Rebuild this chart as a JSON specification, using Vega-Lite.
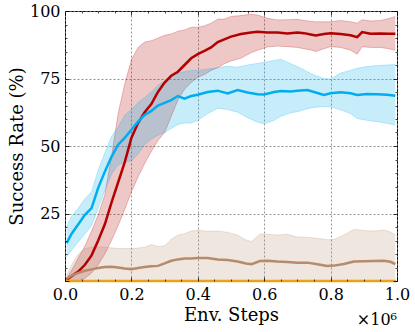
{
  "$schema": "https://vega.github.io/schema/vega-lite/v6.json",
  "width": 332,
  "height": 270,
  "autosize": {"type": "none"},
  "padding": {"left": 65, "top": 11, "right": 18, "bottom": 51},
  "config": {
    "view": {"stroke": "#000", "strokeWidth": 1},
    "font": "DejaVu Serif",
    "axis": {"labelFont": "DejaVu Serif", "titleFont": "DejaVu Serif", "labelColor": "#000", "titleColor": "#000", "titleFontWeight": "normal", "labelFlush": false, "labelOverlap": false}
  },
  "datasets": {
    "runs": [
      {"s":"A","x":0.005,"m":0.5,"lo":0,"hi":1},
      {"s":"A","x":0.02,"m":1.8,"lo":0,"hi":4},
      {"s":"A","x":0.04,"m":3.5,"lo":0,"hi":8.5},
      {"s":"A","x":0.06,"m":6,"lo":1,"hi":13},
      {"s":"A","x":0.08,"m":9.5,"lo":3,"hi":18.5},
      {"s":"A","x":0.1,"m":15,"lo":6,"hi":24.5},
      {"s":"A","x":0.12,"m":21,"lo":10,"hi":32},
      {"s":"A","x":0.14,"m":29,"lo":15,"hi":46},
      {"s":"A","x":0.16,"m":36.5,"lo":20.5,"hi":62},
      {"s":"A","x":0.18,"m":44,"lo":26.5,"hi":73},
      {"s":"A","x":0.2,"m":53,"lo":33,"hi":82},
      {"s":"A","x":0.22,"m":58.5,"lo":38.5,"hi":86.5},
      {"s":"A","x":0.24,"m":62.5,"lo":43.5,"hi":88.5},
      {"s":"A","x":0.26,"m":65.5,"lo":48,"hi":89},
      {"s":"A","x":0.28,"m":70,"lo":52,"hi":90},
      {"s":"A","x":0.3,"m":73.5,"lo":55,"hi":91},
      {"s":"A","x":0.32,"m":76,"lo":61,"hi":91.5},
      {"s":"A","x":0.34,"m":77.5,"lo":67,"hi":92.5},
      {"s":"A","x":0.36,"m":80,"lo":71,"hi":93},
      {"s":"A","x":0.38,"m":82.5,"lo":73.5,"hi":94},
      {"s":"A","x":0.4,"m":84,"lo":75.5,"hi":94},
      {"s":"A","x":0.42,"m":85.2,"lo":76.5,"hi":94.5},
      {"s":"A","x":0.44,"m":86.5,"lo":78,"hi":95.5},
      {"s":"A","x":0.46,"m":88.5,"lo":79,"hi":97},
      {"s":"A","x":0.48,"m":89.5,"lo":80.5,"hi":97},
      {"s":"A","x":0.5,"m":90.5,"lo":81.5,"hi":98},
      {"s":"A","x":0.53,"m":91.5,"lo":82.5,"hi":98.3},
      {"s":"A","x":0.56,"m":92,"lo":84.5,"hi":98.8},
      {"s":"A","x":0.58,"m":92.3,"lo":85.5,"hi":98.5},
      {"s":"A","x":0.61,"m":92,"lo":86.7,"hi":97.3},
      {"s":"A","x":0.64,"m":92,"lo":87,"hi":96.7},
      {"s":"A","x":0.67,"m":91.7,"lo":86.8,"hi":96.8},
      {"s":"A","x":0.7,"m":92,"lo":86.5,"hi":96.9},
      {"s":"A","x":0.72,"m":91.8,"lo":86,"hi":96.5},
      {"s":"A","x":0.74,"m":91.3,"lo":85.6,"hi":96.2},
      {"s":"A","x":0.755,"m":90.9,"lo":85,"hi":96},
      {"s":"A","x":0.78,"m":91.5,"lo":86,"hi":96},
      {"s":"A","x":0.8,"m":91.8,"lo":86.8,"hi":96},
      {"s":"A","x":0.83,"m":91.5,"lo":86.5,"hi":96.5},
      {"s":"A","x":0.86,"m":91,"lo":85.5,"hi":96},
      {"s":"A","x":0.88,"m":90.3,"lo":84,"hi":95.5},
      {"s":"A","x":0.895,"m":92.2,"lo":86.8,"hi":96.8},
      {"s":"A","x":0.92,"m":91.6,"lo":86.5,"hi":96.3},
      {"s":"A","x":0.95,"m":91.7,"lo":86.5,"hi":96.5},
      {"s":"A","x":0.975,"m":91.6,"lo":86,"hi":97.2},
      {"s":"A","x":0.995,"m":91.6,"lo":85.5,"hi":98},
      {"s":"B","x":0.005,"m":14,"lo":9,"hi":20},
      {"s":"B","x":0.02,"m":17.5,"lo":11.5,"hi":24},
      {"s":"B","x":0.04,"m":21,"lo":14.5,"hi":27},
      {"s":"B","x":0.06,"m":24.5,"lo":17.5,"hi":30.5},
      {"s":"B","x":0.08,"m":27,"lo":20.5,"hi":33},
      {"s":"B","x":0.1,"m":34.5,"lo":27,"hi":41},
      {"s":"B","x":0.12,"m":40.5,"lo":33.5,"hi":47.5},
      {"s":"B","x":0.14,"m":46,"lo":39.5,"hi":53.5},
      {"s":"B","x":0.16,"m":50.5,"lo":43,"hi":57},
      {"s":"B","x":0.18,"m":53,"lo":44,"hi":61.5},
      {"s":"B","x":0.2,"m":56,"lo":44.5,"hi":63.5},
      {"s":"B","x":0.22,"m":59,"lo":47,"hi":66},
      {"s":"B","x":0.24,"m":61.5,"lo":50.5,"hi":68},
      {"s":"B","x":0.26,"m":63,"lo":52.5,"hi":70},
      {"s":"B","x":0.28,"m":65,"lo":54,"hi":72.5},
      {"s":"B","x":0.3,"m":66,"lo":55,"hi":74},
      {"s":"B","x":0.32,"m":67,"lo":56.5,"hi":75.5},
      {"s":"B","x":0.34,"m":68.5,"lo":58,"hi":77},
      {"s":"B","x":0.36,"m":67.5,"lo":58.5,"hi":77.5},
      {"s":"B","x":0.38,"m":68.5,"lo":58.5,"hi":78},
      {"s":"B","x":0.4,"m":69,"lo":59.5,"hi":78},
      {"s":"B","x":0.43,"m":70,"lo":62,"hi":78.5},
      {"s":"B","x":0.46,"m":70.5,"lo":64,"hi":79},
      {"s":"B","x":0.49,"m":69.5,"lo":63.5,"hi":79.5},
      {"s":"B","x":0.52,"m":70.7,"lo":62.5,"hi":79.2},
      {"s":"B","x":0.55,"m":69.8,"lo":60.5,"hi":80},
      {"s":"B","x":0.58,"m":69.2,"lo":58.8,"hi":80.6},
      {"s":"B","x":0.6,"m":69.1,"lo":58.2,"hi":81},
      {"s":"B","x":0.63,"m":70,"lo":59.5,"hi":81.7},
      {"s":"B","x":0.65,"m":70.4,"lo":61,"hi":82.1},
      {"s":"B","x":0.68,"m":70.2,"lo":62.3,"hi":80.5},
      {"s":"B","x":0.7,"m":70.5,"lo":62.7,"hi":79.4},
      {"s":"B","x":0.73,"m":70.7,"lo":63.8,"hi":77.5},
      {"s":"B","x":0.75,"m":70,"lo":64.3,"hi":76.3},
      {"s":"B","x":0.78,"m":68.9,"lo":64.6,"hi":75},
      {"s":"B","x":0.8,"m":69.5,"lo":64.5,"hi":74.8},
      {"s":"B","x":0.83,"m":69.9,"lo":63.4,"hi":77},
      {"s":"B","x":0.86,"m":69.5,"lo":62,"hi":78},
      {"s":"B","x":0.88,"m":68.9,"lo":60.2,"hi":78.8},
      {"s":"B","x":0.91,"m":69.3,"lo":59.5,"hi":79.4},
      {"s":"B","x":0.94,"m":69.2,"lo":59,"hi":79.8},
      {"s":"B","x":0.97,"m":69,"lo":58.4,"hi":80},
      {"s":"B","x":0.995,"m":68.6,"lo":57.8,"hi":80.2},
      {"s":"C","x":0.005,"m":1,"lo":0,"hi":2},
      {"s":"C","x":0.02,"m":2,"lo":0,"hi":6},
      {"s":"C","x":0.04,"m":3,"lo":0,"hi":10},
      {"s":"C","x":0.06,"m":3.8,"lo":0,"hi":12},
      {"s":"C","x":0.08,"m":4.3,"lo":0,"hi":12.5},
      {"s":"C","x":0.1,"m":4.8,"lo":0,"hi":12.7},
      {"s":"C","x":0.12,"m":5.2,"lo":0,"hi":12.5},
      {"s":"C","x":0.14,"m":5.3,"lo":0,"hi":12.3},
      {"s":"C","x":0.16,"m":5,"lo":0,"hi":12},
      {"s":"C","x":0.18,"m":4.6,"lo":0,"hi":12},
      {"s":"C","x":0.2,"m":4.4,"lo":0,"hi":12},
      {"s":"C","x":0.22,"m":4.8,"lo":0,"hi":12.2},
      {"s":"C","x":0.24,"m":5.2,"lo":0,"hi":12.5},
      {"s":"C","x":0.26,"m":5.5,"lo":0,"hi":13.5},
      {"s":"C","x":0.28,"m":5.6,"lo":0,"hi":12.8},
      {"s":"C","x":0.3,"m":6.5,"lo":0,"hi":13},
      {"s":"C","x":0.32,"m":7.5,"lo":0,"hi":15.5},
      {"s":"C","x":0.34,"m":8,"lo":0,"hi":17},
      {"s":"C","x":0.36,"m":8.3,"lo":0,"hi":17.5},
      {"s":"C","x":0.38,"m":8.3,"lo":0,"hi":18.5},
      {"s":"C","x":0.4,"m":8.5,"lo":0,"hi":18.8},
      {"s":"C","x":0.43,"m":8.5,"lo":0,"hi":18.4},
      {"s":"C","x":0.46,"m":8,"lo":0,"hi":18.5},
      {"s":"C","x":0.49,"m":7.8,"lo":0,"hi":18},
      {"s":"C","x":0.52,"m":7.2,"lo":0,"hi":17},
      {"s":"C","x":0.545,"m":6.5,"lo":0,"hi":15.2},
      {"s":"C","x":0.562,"m":6.2,"lo":0,"hi":14.6},
      {"s":"C","x":0.587,"m":7.4,"lo":0,"hi":17.4},
      {"s":"C","x":0.61,"m":7.5,"lo":0,"hi":17.3},
      {"s":"C","x":0.64,"m":7.2,"lo":0,"hi":17},
      {"s":"C","x":0.67,"m":7,"lo":0,"hi":17.3},
      {"s":"C","x":0.7,"m":6.8,"lo":0,"hi":16.3},
      {"s":"C","x":0.73,"m":6.8,"lo":0,"hi":16.2},
      {"s":"C","x":0.76,"m":6.2,"lo":0,"hi":15.8},
      {"s":"C","x":0.79,"m":5.6,"lo":0,"hi":15.3},
      {"s":"C","x":0.81,"m":5.7,"lo":0,"hi":15.4},
      {"s":"C","x":0.84,"m":6.3,"lo":0,"hi":17},
      {"s":"C","x":0.87,"m":7.2,"lo":0,"hi":19.1},
      {"s":"C","x":0.9,"m":7.3,"lo":0,"hi":18.7},
      {"s":"C","x":0.93,"m":7.4,"lo":0,"hi":18.5},
      {"s":"C","x":0.96,"m":7.5,"lo":0,"hi":18.9},
      {"s":"C","x":0.98,"m":7.1,"lo":0,"hi":18.2},
      {"s":"C","x":0.995,"m":6.3,"lo":0,"hi":17},
      {"s":"D","x":0.003,"m":0,"lo":0,"hi":0},
      {"s":"D","x":0.5,"m":0,"lo":0,"hi":0},
      {"s":"D","x":0.997,"m":0,"lo":0,"hi":0}
    ],
    "note": [{"x": 1, "y": 0, "t": "×10⁶"}]
  },
  "data": {"name": "runs"},
  "resolve": {"axis": {"x": "independent", "y": "independent"}},
  "layer": [
    {
      "mark": {"type": "area", "opacity": 0.22},
      "encoding": {
        "x": {"field": "x", "type": "quantitative", "scale": {"domain": [0, 1], "nice": false, "zero": false},
          "axis": {"orient": "bottom", "title": "Env. Steps", "values": [0, 0.2, 0.4, 0.6, 0.8, 1], "format": ".1f", "ticks": false, "domain": false, "grid": true, "gridDash": [2, 2], "gridColor": "#7a7a7a", "gridWidth": 0.8, "labelPadding": 5, "labelFontSize": 16, "titleFontSize": 18, "titleY": 25, "titleBaseline": "top"}},
        "y": {"field": "lo", "type": "quantitative", "scale": {"domain": [0, 100], "nice": false},
          "axis": {"orient": "left", "title": "Success Rate (%)", "values": [25, 50, 75, 100], "ticks": false, "domain": false, "grid": true, "gridDash": [2, 2], "gridColor": "#7a7a7a", "gridWidth": 0.8, "labelPadding": 5, "labelFontSize": 16, "titleFontSize": 18, "titleX": -39, "titleY": 135}},
        "y2": {"field": "hi"},
        "color": {"field": "s", "type": "nominal", "scale": {"domain": ["A", "B", "C", "D"], "range": ["#b30000", "#00aeef", "#b58b6c", "#e8a31a"]}, "legend": null}
      }
    },
    {
      "mark": {"type": "line", "strokeWidth": 0.8, "opacity": 0.3},
      "encoding": {
        "x": {"field": "x", "type": "quantitative", "axis": {"orient": "top", "values": [0, 0.2, 0.4, 0.6, 0.8, 1], "labels": false, "domain": false, "grid": false, "ticks": true, "tickSize": -4, "tickColor": "#000", "tickWidth": 0.8, "title": null, "zindex": 2}},
        "y": {"field": "lo", "type": "quantitative", "axis": {"orient": "right", "values": [0, 25, 50, 75, 100], "labels": false, "domain": false, "grid": false, "ticks": true, "tickSize": -4, "tickColor": "#000", "tickWidth": 0.8, "title": null, "zindex": 2}},
        "color": {"field": "s", "type": "nominal", "legend": null}
      }
    },
    {
      "mark": {"type": "line", "strokeWidth": 0.8, "opacity": 0.3},
      "encoding": {
        "x": {"field": "x", "type": "quantitative", "axis": {"orient": "top", "values": [0.05, 0.1, 0.15, 0.25, 0.3, 0.35, 0.45, 0.5, 0.55, 0.65, 0.7, 0.75, 0.85, 0.9, 0.95], "labels": false, "domain": false, "grid": false, "ticks": true, "tickSize": -2, "tickColor": "#000", "tickWidth": 0.7, "title": null, "zindex": 2}},
        "y": {"field": "hi", "type": "quantitative", "axis": {"orient": "right", "values": [5, 10, 15, 20, 30, 35, 40, 45, 55, 60, 65, 70, 80, 85, 90, 95], "labels": false, "domain": false, "grid": false, "ticks": true, "tickSize": -2, "tickColor": "#000", "tickWidth": 0.7, "title": null, "zindex": 2}},
        "color": {"field": "s", "type": "nominal", "legend": null}
      }
    },
    {
      "mark": {"type": "line", "strokeWidth": 2.5},
      "encoding": {
        "x": {"field": "x", "type": "quantitative", "axis": {"orient": "bottom", "values": [0.05, 0.1, 0.15, 0.25, 0.3, 0.35, 0.45, 0.5, 0.55, 0.65, 0.7, 0.75, 0.85, 0.9, 0.95], "labels": false, "domain": false, "grid": false, "ticks": true, "tickSize": -2, "tickColor": "#000", "tickWidth": 0.7, "title": null, "zindex": 2}},
        "y": {"field": "m", "type": "quantitative", "axis": {"orient": "left", "values": [5, 10, 15, 20, 30, 35, 40, 45, 55, 60, 65, 70, 80, 85, 90, 95], "labels": false, "domain": false, "grid": false, "ticks": true, "tickSize": -2, "tickColor": "#000", "tickWidth": 0.7, "title": null, "zindex": 2}},
        "color": {"field": "s", "type": "nominal", "legend": null}
      }
    },
    {
      "data": {"name": "note"},
      "mark": {"type": "text", "align": "right", "baseline": "alphabetic", "dy": 44, "fontSize": 16, "font": "DejaVu Serif", "color": "#000"},
      "encoding": {
        "x": {"field": "x", "type": "quantitative", "axis": {"orient": "bottom", "values": [0, 0.2, 0.4, 0.6, 0.8, 1], "labels": false, "domain": false, "grid": false, "ticks": true, "tickSize": -4, "tickColor": "#000", "tickWidth": 0.8, "title": null, "zindex": 2}},
        "y": {"field": "y", "type": "quantitative", "axis": {"orient": "left", "values": [0, 25, 50, 75, 100], "labels": false, "domain": false, "grid": false, "ticks": true, "tickSize": -4, "tickColor": "#000", "tickWidth": 0.8, "title": null, "zindex": 2}},
        "text": {"field": "t"}
      }
    }
  ]
}
